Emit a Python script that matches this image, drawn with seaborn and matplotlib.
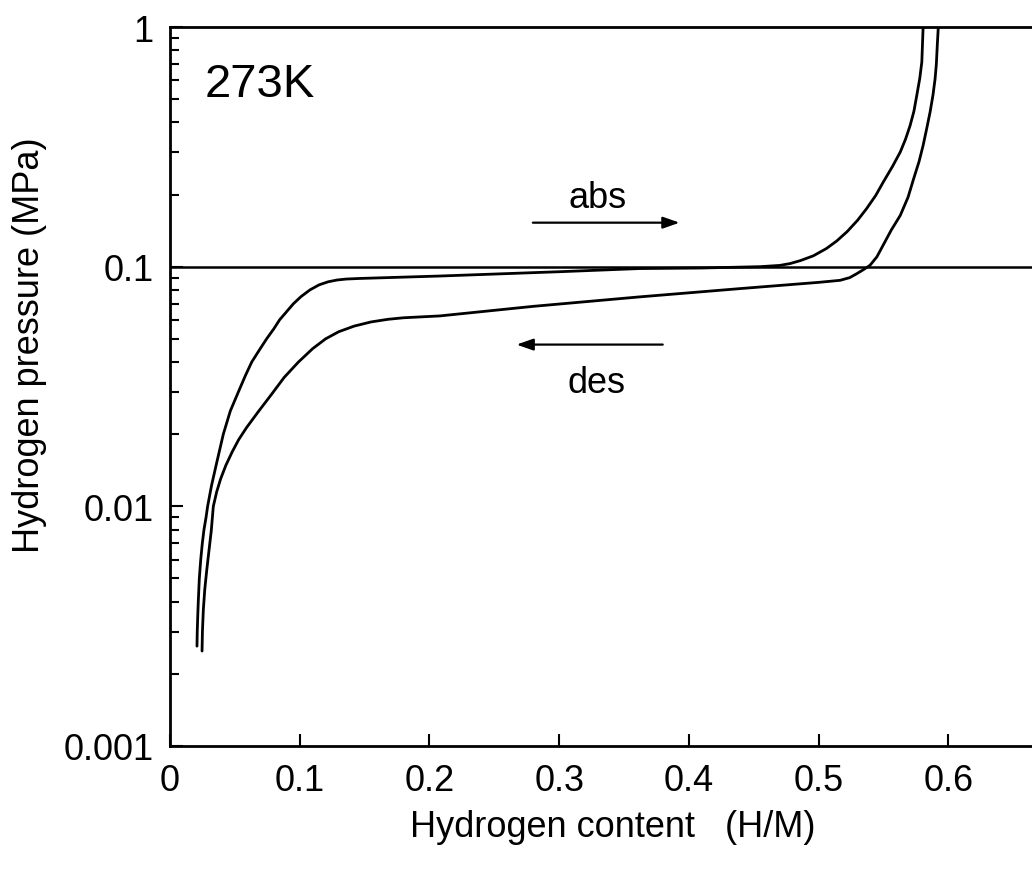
import numpy as np
import pandas as pd
import matplotlib
matplotlib.use("Agg")
import matplotlib.pyplot as plt
import seaborn as sns
from matplotlib.ticker import FixedLocator, NullFormatter, NullLocator

# ---- data ----
abs_x = [0.0208, 0.0210, 0.0214, 0.0218, 0.0226, 0.0237, 0.0249, 0.0262, 0.0278, 0.0290,
         0.0320, 0.0355, 0.0411, 0.0465, 0.0527, 0.0580, 0.0630, 0.0690, 0.0745, 0.0800,
         0.0845, 0.0900, 0.0951, 0.1010, 0.1079, 0.1150, 0.1220, 0.1290, 0.1360,
         0.1465, 0.2080, 0.3010, 0.3620, 0.4090, 0.4550, 0.4700, 0.4780, 0.4860, 0.4960,
         0.5060, 0.5140, 0.5220, 0.5300, 0.5370, 0.5440, 0.5500, 0.5570, 0.5630, 0.5670,
         0.5705, 0.5735, 0.5757, 0.5780, 0.5796, 0.5806]
abs_p = [0.00261, 0.0030, 0.0035, 0.0040, 0.0050, 0.0060, 0.0070, 0.0080, 0.0090, 0.0100,
         0.0122, 0.0148, 0.0200, 0.0250, 0.0300, 0.0350, 0.0400, 0.0450, 0.0500, 0.0550,
         0.0600, 0.0650, 0.0700, 0.0750, 0.0800, 0.0840, 0.0865, 0.0880, 0.0888,
         0.0893, 0.0914, 0.0953, 0.0982, 0.0987, 0.1000, 0.1012, 0.1030, 0.1060, 0.1110,
         0.1190, 0.1280, 0.1400, 0.1560, 0.1746, 0.1980, 0.2260, 0.2620, 0.3010, 0.3400,
         0.3870, 0.4450, 0.5180, 0.6100, 0.7140, 1.0000]

des_x = [0.0247, 0.0250, 0.0257, 0.0268, 0.0283, 0.0300, 0.0318, 0.0334, 0.0360,
         0.0390, 0.0430, 0.0480, 0.0530, 0.0590, 0.0680, 0.0780, 0.0880, 0.0990,
         0.1100, 0.1200, 0.1300, 0.1420, 0.1550, 0.1680, 0.1800, 0.2080, 0.2800,
         0.3620, 0.4395, 0.5000, 0.5166, 0.5240, 0.5295, 0.5350, 0.5397, 0.5450,
         0.5497, 0.5560, 0.5630, 0.5690, 0.5733, 0.5775, 0.5806, 0.5835, 0.5860,
         0.5882, 0.5898, 0.5908, 0.5915, 0.5923]
des_p = [0.00249, 0.0030, 0.0037, 0.0045, 0.0054, 0.0065, 0.0079, 0.0100, 0.0115,
         0.0130, 0.0148, 0.0169, 0.0190, 0.0213, 0.0248, 0.0292, 0.0345, 0.0400,
         0.0455, 0.0500, 0.0535, 0.0565, 0.0588, 0.0603, 0.0612, 0.0623, 0.0683,
         0.0748, 0.0810, 0.0860, 0.0877, 0.0900, 0.0935, 0.0975, 0.1014, 0.1100,
         0.1227, 0.1420, 0.1637, 0.1950, 0.2328, 0.2750, 0.3206, 0.3800, 0.4426,
         0.5200, 0.6063, 0.7000, 0.8360, 1.0000]

ytick_vals = [0.001, 0.01, 0.1, 1]
ytick_labels = ["0.001", "0.01", "0.1", "1"]
xtick_vals = [0, 0.1, 0.2, 0.3, 0.4, 0.5, 0.6]
xtick_labels = ["0", "0.1", "0.2", "0.3", "0.4", "0.5", "0.6"]

sns.set_style("ticks")
plt.rcParams["font.family"] = ["Liberation Sans", "DejaVu Sans"]
plt.rcParams["text.color"] = "black"
plt.rcParams["axes.labelcolor"] = "black"

fig = plt.figure(figsize=(10.32, 8.79), dpi=100)
ax = fig.add_axes([170 / 1032, 132 / 879, 908 / 1032, 719 / 879])

df_abs = pd.DataFrame({"x": abs_x, "p": abs_p})
df_des = pd.DataFrame({"x": des_x, "p": des_p})
sns.lineplot(data=df_abs, x="x", y="p", sort=False, estimator=None, color="black", lw=2.0, ax=ax)
sns.lineplot(data=df_des, x="x", y="p", sort=False, estimator=None, color="black", lw=2.0, ax=ax)

ax.axhline(0.1, color="black", lw=1.8)

ax.set_yscale("log")
ax.set_ylim(0.001, 1)
ax.set_xlim(0, 0.7)

ax.yaxis.set_major_locator(FixedLocator(ytick_vals))
ax.set_yticklabels(ytick_labels)
minor = [m * 10.0 ** e for e in (-3, -2, -1) for m in range(2, 10)]
ax.yaxis.set_minor_locator(FixedLocator(minor))
ax.yaxis.set_minor_formatter(NullFormatter())
ax.xaxis.set_major_locator(FixedLocator(xtick_vals))
ax.set_xticklabels(xtick_labels)
ax.xaxis.set_minor_locator(NullLocator())

ax.tick_params(axis="both", which="major", direction="in", length=9, width=1.5,
               labelsize=26, pad=12, colors="black")
ax.tick_params(axis="y", which="minor", direction="in", length=6.5, width=1.5, colors="black")
ax.tick_params(top=False, right=False, which="both")

for s in ["left", "bottom", "top"]:
    ax.spines[s].set_linewidth(2.0)
    ax.spines[s].set_color("black")
ax.spines["right"].set_visible(False)

ax.set_xlabel("Hydrogen content   (H/M)", fontsize=26)
ax.xaxis.set_label_coords((613 - 170) / 908, -(828 - 747) / 719)
ax.xaxis.label.set_va("center")
ax.set_ylabel("Hydrogen pressure (MPa)", fontsize=26)
ax.yaxis.set_label_coords((30 - 170) / 908, (747 - 345) / 719)
ax.yaxis.label.set_va("center")

ax.text(0.027, 0.516, "273K", fontsize=34, ha="left", va="baseline")

# arrows and labels
ax.annotate("", xy=(0.395, 0.1526), xytext=(0.2776, 0.1526),
            arrowprops=dict(arrowstyle="-|>,head_length=1.0,head_width=0.35", color="black", lw=1.6))
ax.annotate("", xy=(0.265, 0.0473), xytext=(0.382, 0.0473),
            arrowprops=dict(arrowstyle="-|>,head_length=1.0,head_width=0.35", color="black", lw=1.6))
ax.text(0.33, 0.178, "abs", fontsize=26, ha="center", va="baseline")
ax.text(0.329, 0.033, "des", fontsize=26, ha="center", va="center")

fig.savefig("out.png", dpi=100)
